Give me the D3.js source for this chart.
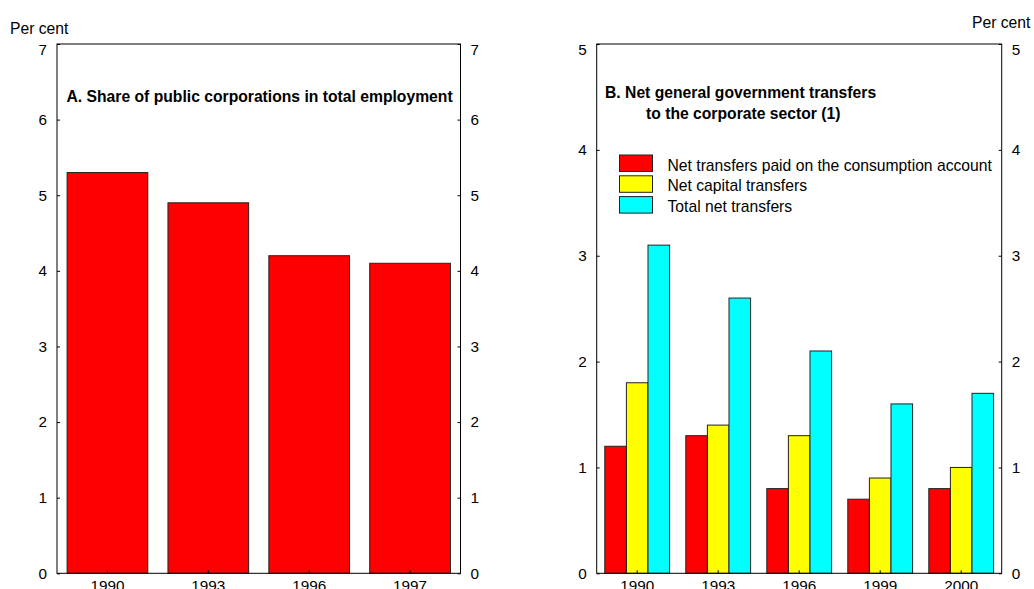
<!DOCTYPE html>
<html>
<head>
<meta charset="utf-8">
<script src="https://cdn.jsdelivr.net/npm/d3@7"></script>
<style>
  html, body { margin: 0; padding: 0; background: #fff; }
  svg { display: block; font-family: "Liberation Sans", Arial, sans-serif; }
</style>
</head>
<body>
<svg id="chart" width="1034" height="589"></svg>
<script>
// ---- Data ----
const yearsA = ["1990", "1993", "1996", "1997"];
const shareA = [5.3, 4.9, 4.2, 4.1];
const ticksA = [0, 1, 2, 3, 4, 5, 6, 7];

const yearsB = ["1990", "1993", "1996", "1999", "2000"];
const seriesNamesB = ["Net transfers paid on the consumption account", "Net capital transfers", "Total net transfers"];
const consumptionB = [1.2, 1.3, 0.8, 0.7, 0.8];
const capitalB = [1.8, 1.4, 1.3, 0.9, 1.0];
const totalB = [3.1, 2.6, 2.1, 1.6, 1.7];
const ticksB = [0, 1, 2, 3, 4, 5];
const colorsB = ["#ff0000", "#ffff00", "#00ffff"];

const svg = d3.select("#chart");
const plotTop = 44, plotBottom = 573.3;
const labelSize = 15.7;

function styleAxis(g, size) {
  g.select(".domain").remove();
  g.selectAll(".tick line").attr("stroke", "#000");
  g.selectAll(".tick text").attr("fill", "#000").style("font-size", size + "px");
}

function frame(x0, x1, yScale, ticks) {
  const g = svg.append("g");
  const maxT = d3.max(ticks);
  const la = g.append("g").attr("transform", `translate(${x0},0)`)
    .call(d3.axisLeft(yScale).tickValues(ticks).tickSize(-3).tickPadding(10).tickFormat(d3.format("d")));
  styleAxis(la, 15.3);
  la.selectAll(".tick").filter(d => d === maxT).select("text").attr("y", 6);
  const ra = g.append("g").attr("transform", `translate(${x1},0)`)
    .call(d3.axisRight(yScale).tickValues(ticks).tickSize(-3).tickPadding(10).tickFormat(d3.format("d")));
  styleAxis(ra, 15.3);
  ra.selectAll(".tick").filter(d => d === maxT).select("text").attr("y", 6);
  return g;
}

// ---- Panel A ----
const xA0 = 57, xA1 = 460.5;
const xA = d3.scaleBand().domain(yearsA).range([xA0, xA1]).paddingInner(0.2).paddingOuter(0.1);
const yA = d3.scaleLinear().domain([0, 7]).range([plotBottom, plotTop]);

frame(xA0, xA1, yA, ticksA);
svg.append("g").selectAll("rect").data(yearsA).join("rect")
  .attr("x", d => xA(d)).attr("width", xA.bandwidth())
  .attr("y", (d, i) => yA(shareA[i])).attr("height", (d, i) => yA(0) - yA(shareA[i]))
  .attr("fill", "#ff0000").attr("stroke", "#222").attr("stroke-width", 1);

const bxA = svg.append("g").attr("transform", `translate(0,${plotBottom})`)
  .call(d3.axisBottom(xA).tickSize(-3).tickPadding(7));
styleAxis(bxA, 15.3);
svg.append("rect").attr("x", xA0).attr("y", plotTop).attr("width", xA1 - xA0).attr("height", plotBottom - plotTop)
  .attr("fill", "none").attr("stroke", "#000").attr("stroke-width", 1);

svg.append("text").attr("x", 10).attr("y", 34).style("font-size", labelSize + "px").text("Per cent");
svg.append("text").attr("x", 66.5).attr("y", 102.3).style("font-size", labelSize + "px").style("font-weight", "bold")
  .text("A. Share of public corporations in total employment");

// ---- Panel B ----
const xB0 = 596.7, xB1 = 1001.7;
const xB = d3.scaleBand().domain(yearsB).range([xB0, xB1]).paddingInner(0.2).paddingOuter(0.1);
const xSub = d3.scaleBand().domain([0, 1, 2]).range([0, xB.bandwidth()]);
const yB = d3.scaleLinear().domain([0, 5]).range([plotBottom, plotTop]);
const seriesB = [consumptionB, capitalB, totalB];

frame(xB0, xB1, yB, ticksB);
const groups = svg.append("g").selectAll("g").data(yearsB).join("g")
  .attr("transform", d => `translate(${xB(d)},0)`);
groups.selectAll("rect").data((d, i) => seriesB.map((s, k) => ({ k, v: s[i] }))).join("rect")
  .attr("x", d => xSub(d.k)).attr("width", xSub.bandwidth())
  .attr("y", d => yB(d.v)).attr("height", d => yB(0) - yB(d.v))
  .attr("fill", d => colorsB[d.k]).attr("stroke", "#222").attr("stroke-width", 1);

const bxB = svg.append("g").attr("transform", `translate(0,${plotBottom})`)
  .call(d3.axisBottom(xB).tickSize(-3).tickPadding(7));
styleAxis(bxB, 15.3);
svg.append("rect").attr("x", xB0).attr("y", plotTop).attr("width", xB1 - xB0).attr("height", plotBottom - plotTop)
  .attr("fill", "none").attr("stroke", "#000").attr("stroke-width", 1);

svg.append("text").attr("x", 972).attr("y", 28.3).style("font-size", labelSize + "px").text("Per cent");
svg.append("text").attr("x", 605).attr("y", 97.5).style("font-size", labelSize + "px").style("font-weight", "bold")
  .text("B. Net general government transfers");
svg.append("text").attr("x", 646).attr("y", 118.5).style("font-size", labelSize + "px").style("font-weight", "bold")
  .text("to the corporate sector (1)");

const leg = svg.append("g").selectAll("g").data(seriesNamesB).join("g")
  .attr("transform", (d, i) => `translate(619.5,${155 + i * 20.8})`);
leg.append("rect").attr("width", 33).attr("height", 16.5)
  .attr("fill", (d, i) => colorsB[i]).attr("stroke", "#222").attr("stroke-width", 1);
leg.append("text").attr("x", 48).attr("y", 15.5).style("font-size", labelSize + "px").text(d => d);
</script>
</body>
</html>
